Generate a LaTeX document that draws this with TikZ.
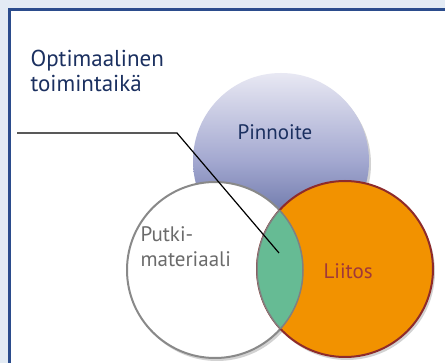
\documentclass[tikz,border=0pt]{standalone}
\usepackage{fontspec}
\setmainfont{PT Sans}
\usetikzlibrary{shadows}

\definecolor{pagebg}{HTML}{E3EBF4}
\definecolor{framecol}{HTML}{2B4C8C}
\definecolor{navytext}{HTML}{1B3060}
\definecolor{coattop}{HTML}{E8E8F3}
\definecolor{coatmid}{HTML}{A3A8D0}
\definecolor{coatbot}{HTML}{4E5C94}
\definecolor{pipegray}{HTML}{6B6B6B}
\definecolor{jointtext}{HTML}{A0383A}
\definecolor{jointfill}{HTML}{F29200}
\definecolor{jointedge}{HTML}{8E2B2B}
\definecolor{lensfill}{HTML}{66BB94}

\begin{document}
\begin{tikzpicture}[x=1pt, y=-1pt,
  vennset/.style = {circle, minimum size=176pt, inner sep=0pt,
    drop shadow={shadow xshift=2pt, shadow yshift=-3pt, opacity=0.35}},
  vennlbl/.style = {font=\fontsize{21}{25}\selectfont, align=left},
  calloutlbl/.style = {font=\fontsize{23}{25}\selectfont, align=left, text=navytext}
]
  % tausta ja kehys
  \useasboundingbox (0,0) rectangle (445,363);
  \fill[pagebg] (0,0) rectangle (445,363);
  \draw[framecol, line width=3pt, fill=white] (9,10) rectangle (460,380);
  % pinnoite
  \node[vennset, top color=coattop, bottom color=coatbot, middle color=coatmid]
    (coat) at (281,161) {};
  % putkimateriaali
  \node[vennset, fill=white, draw=pipegray!80, line width=2pt] (pipe) at (215,270) {};
  % liitos
  \node[vennset, fill=jointfill, draw=jointedge, line width=2pt] (joint) at (345,269) {};
  % leikkausalue
  \begin{scope}
    \clip (pipe.center) circle (88);
    \fill[lensfill, draw=gray, line width=1.5pt] (joint.center) circle (88);
  \end{scope}
  \begin{scope}
    \clip (joint.center) circle (88);
    \draw[gray, line width=1.5pt] (pipe.center) circle (88);
  \end{scope}
  % tekstit
  \node[vennlbl, text=navytext] (coatlbl) at (275,132) {Pinnoite};
  \node[vennlbl, text=pipegray, anchor=base west] (pipelbl) at (137,267)
    {Putki-\\materiaali};
  \node[vennlbl, text=jointtext, anchor=base west] (jointlbl) at (320,279) {Liitos};
  \node[calloutlbl, anchor=base west] (optlbl) at (27,92)
    {Optimaalinen\\toimintaikä};
  % viiva
  \coordinate (leadstart) at (17,133);
  \coordinate (leadbend) at (177,133);
  \coordinate (lenspt) at (279,253);
  \draw[line width=1.2pt] (leadstart) -- (leadbend) -- (lenspt);
\end{tikzpicture}
\end{document}
